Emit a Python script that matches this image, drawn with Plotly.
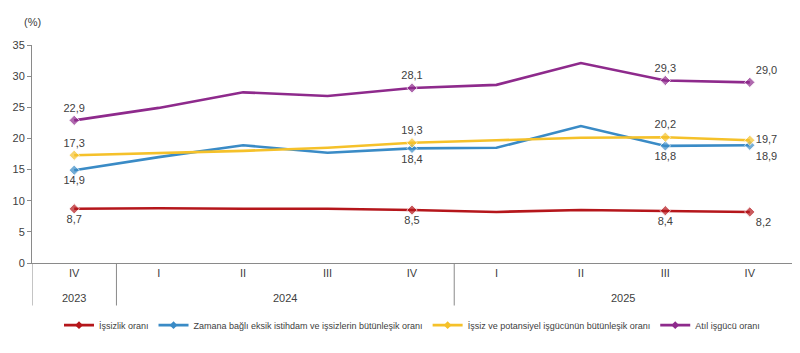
import plotly.graph_objects as go

quarters = ["IV", "I", "II", "III", "IV", "I", "II", "III", "IV"]
years = ["2023", "2024", "2024", "2024", "2024", "2025", "2025", "2025", "2025"]

unemployment = [8.7, 8.8, 8.7, 8.7, 8.5, 8.2, 8.5, 8.4, 8.2]
time_related = [14.9, 17.0, 18.9, 17.7, 18.4, 18.5, 22.0, 18.8, 18.9]
potential = [17.3, 17.6, 18.0, 18.5, 19.3, 19.7, 20.1, 20.2, 19.7]
slack = [22.9, 24.9, 27.4, 26.8, 28.1, 28.6, 32.1, 29.3, 29.0]

labeled = [0, 4, 7, 8]

series_names = [
    "İşsizlik oranı",
    "Zamana bağlı eksik istihdam ve işsizlerin bütünleşik oranı",
    "İşsiz ve potansiyel işgücünün bütünleşik oranı",
    "Atıl işgücü oranı",
]
colors = ["#B5161B", "#3A8BC6", "#F5C12A", "#8E2A8C"]
series = [unemployment, time_related, potential, slack]
positions = [
    ["bottom center"] * 8 + ["bottom right"],
    ["bottom center"] * 8 + ["bottom right"],
    ["top center"] * 8 + ["middle right"],
    ["top center"] * 8 + ["top right"],
]

FONT = "Liberation Sans, Arial, sans-serif"
x = list(range(len(quarters)))

fig = go.Figure()
for name, vals, col, pos in zip(series_names, series, colors, positions):
    texts = [f"{v:.1f}".replace(".", ",") if i in labeled else "" for i, v in enumerate(vals)]
    sizes = [8 if i in labeled else 0 for i in range(len(vals))]
    fig.add_trace(go.Scatter(
        x=x, y=vals, name=name, mode="lines+markers+text",
        line=dict(color=col, width=2.6),
        marker=dict(symbol="diamond", size=sizes, color=col),
        text=texts, textposition=pos,
        textfont=dict(family=FONT, size=11, color="#404040"),
        cliponaxis=False, showlegend=False, legendgroup=name,
    ))
    # legend entry
    fig.add_trace(go.Scatter(
        x=[None], y=[None], name=name, mode="lines+markers",
        line=dict(color=col, width=2.6),
        marker=dict(symbol="diamond", size=6, color=col),
        showlegend=True, legendgroup=name,
    ))

# year labels, centered under each group
groups = []
for i, yv in enumerate(years):
    if groups and groups[-1][0] == yv:
        groups[-1][2] = i
    else:
        groups.append([yv, i, i])
for yv, a, b in groups:
    fig.add_annotation(x=(a + b) / 2, y=-0.16, yanchor="middle", xref="x", yref="paper", text=yv,
                       showarrow=False, font=dict(family=FONT, size=11, color="#404040"))
# dividers
bounds = [-0.5] + [b + 0.5 for _, _, b in groups[:-1]]
for bx in bounds:
    fig.add_shape(type="line", xref="x", yref="paper", x0=bx, x1=bx, y0=0, y1=-0.195,
                  line=dict(color="#8a8a8a", width=1))

fig.add_annotation(x=0, y=1.105, xref="paper", yref="paper", xanchor="center", yanchor="middle",
                   text="(%)", showarrow=False, font=dict(family=FONT, size=11, color="#404040"))

fig.update_layout(
    width=800, height=353,
    margin=dict(l=32, r=8, t=45, b=90),
    paper_bgcolor="white", plot_bgcolor="white",
    font=dict(family=FONT, size=11, color="#404040"),
    xaxis=dict(range=[-0.5, 8.5], tickmode="array", tickvals=x, ticktext=quarters,
               showline=True, linecolor="#8a8a8a", linewidth=1, ticks="", showgrid=False,
               zeroline=False, tickfont=dict(family=FONT, size=11, color="#404040")),
    yaxis=dict(range=[0, 35], dtick=5, showline=True, linecolor="#8a8a8a", linewidth=1,
               ticks="outside", ticklen=4, tickcolor="#8a8a8a", showgrid=False, zeroline=False,
               tickfont=dict(family=FONT, size=11, color="#404040")),
    legend=dict(orientation="h", x=0.5, xanchor="center", y=-0.285, yanchor="middle",
                font=dict(family=FONT, size=9, color="#404040"), itemwidth=30,
                tracegroupgap=0),
    showlegend=True,
)

fig.write_html("out.html")
